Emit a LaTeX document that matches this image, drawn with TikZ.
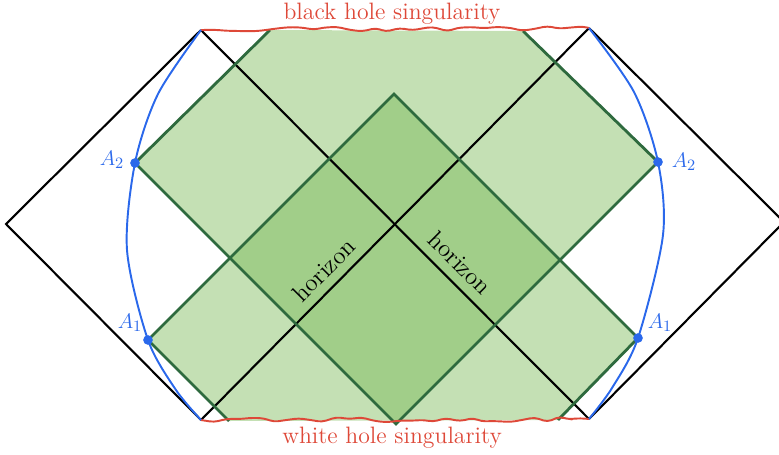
\documentclass[tikz,border=0pt]{standalone}
\usepackage{amsmath,amssymb}
\usepackage{xcolor}
\usepackage{tikz}
\usetikzlibrary{positioning,calc,decorations.pathmorphing}

\definecolor{wedgelight}{RGB}{196,224,180}
\definecolor{wedgedark}{RGB}{161,206,137}
\definecolor{wedgeline}{RGB}{46,106,62}
\definecolor{surfblue}{RGB}{42,104,235}
\definecolor{singred}{RGB}{222,72,56}

\begin{document}
\begin{tikzpicture}[x=0.02cm, y=-0.02cm,
  penrose/.style={line width=1.2pt, black},
  wedgeedge/.style={line width=1.6pt, wedgeline},
  sing/.style={singred, line width=1.1pt, decorate,
    decoration={random steps, segment length=7pt, amplitude=1.7pt}, rounded corners=2.5pt},
  surf/.style={surfblue, line width=1.1pt},
  apoint/.style={circle, fill=surfblue, inner sep=0pt, minimum size=5.5pt},
  alabel/.style={text=surfblue, font=\fontsize{13}{15}\selectfont},
  singlabel/.style={text=singred, font=\fontsize{13.5}{16}\selectfont},
  horlabel/.style={font=\fontsize{14}{16}\selectfont}]

  \useasboundingbox (0,0) rectangle (779,454);
  \pgfmathsetseed{11}

  % Penrose corners
  \coordinate (TL) at (201,30);
  \coordinate (TR) at (589,28);
  \coordinate (BL) at (201,420);
  \coordinate (BR) at (589,419);
  \coordinate (L) at (6,224);
  \coordinate (R) at (784,222);

  % extremal points
  \coordinate (A2L) at (135,163);
  \coordinate (A1L) at (148,340);
  \coordinate (A2R) at (658,162);
  \coordinate (A1R) at (638,338);

  % wedge corners
  \coordinate (W2a) at (270,30);
  \coordinate (W2b) at (523,31);
  \coordinate (W2c) at (396,424);
  \coordinate (W1a) at (394,94);
  \coordinate (W1b) at (558,420);
  \coordinate (W1c) at (229,421);
  \coordinate (Xl) at (230,258);
  \coordinate (Xr) at (560,260);

  % Wedge fills
  \fill[wedgelight] (A2L) -- (W2a) -- (W2b) -- (A2R) -- (W2c) -- cycle;
  \fill[wedgelight] (A1L) -- (W1a) -- (A1R) -- (W1b) -- (W1c) -- cycle;
  \fill[wedgedark] (W1a) -- (Xl) -- (W2c) -- (Xr) -- cycle;

  % Penrose diagram
  \draw[penrose] (TL) -- (L) -- (BL);
  \draw[penrose] (TR) -- (R) -- (BR);
  \draw[penrose] (TL) -- (BR);
  \draw[penrose] (TR) -- (BL);

  % Wedge edges
  \draw[wedgeedge] (W2a) -- (A2L) -- (W2c) -- (A2R) -- (W2b);
  \draw[wedgeedge] (W1c) -- (A1L) -- (W1a) -- (A1R) -- (W1b);

  % Singularities
  \draw[sing] (TL) -- (TR);
  \draw[sing] (BL) -- (BR);
  \node[singlabel] (bhs) at (392,14) {black hole singularity};
  \node[singlabel] (whs) at (392,438) {white hole singularity};

  % Horizons
  \node[horlabel, rotate=45] (hl) at (324,270) {horizon};
  \node[horlabel, rotate=-45] (hr) at (460,263) {horizon};

  % Blue surfaces
  \draw[surf] plot[smooth, tension=0.5] coordinates {(201,30) (158,94) (135,163) (127,250) (148,340) (176,390) (201,420)};
  \draw[surf] plot[smooth, tension=0.5] coordinates {(589,28) (634,92) (658,162) (663,235) (638,338) (612,388) (589,419)};

  \node[apoint] (p2l) at (A2L) {};
  \node[apoint] (p1l) at (A1L) {};
  \node[apoint] (p2r) at (A2R) {};
  \node[apoint] (p1r) at (A1R) {};
  \node[alabel] at (112,160) {$A_2$};
  \node[alabel] at (130,323) {$A_1$};
  \node[alabel] at (684,162) {$A_2$};
  \node[alabel] at (660,323) {$A_1$};
\end{tikzpicture}
\end{document}
